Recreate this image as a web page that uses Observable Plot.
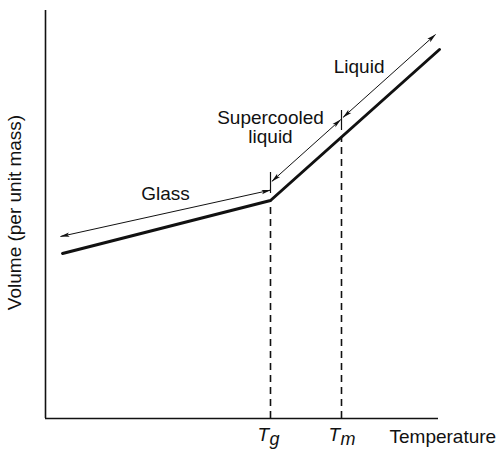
<!DOCTYPE html>
<html>
<head>
<meta charset="utf-8">
<script src="https://cdn.jsdelivr.net/npm/d3@7"></script>
<script src="https://cdn.jsdelivr.net/npm/@observablehq/plot@0.6"></script>
<style>
  html, body { margin: 0; padding: 0; background: #fff; }
  #chart svg { display: block; font-family: "Liberation Sans", Arial, Helvetica, sans-serif; }
</style>
</head>
<body>
<div id="chart"></div>
<script>
// Main volume–temperature curve (arbitrary units)
const temperature = [4.25, 56.25, 98.5];
const volume = [41.25, 54.5, 92.25];

// Transition temperatures
const transitionSubs = ["g", "m"];
const transitionTemps = [56.25, 74];
const transitionVolumes = [54.5, 70.4];
const tickLow = [56.25, 72];
const tickHigh = [61.5, 77];

// Regions (double-headed arrows and labels)
const regionNames = ["Glass", "Supercooled\nliquid", "Liquid"];
const regionStartT = [3.75, 56.6, 74.4];
const regionEndT = [56.25, 73.8, 97.5];
const regionStartV = [45.5, 59.3, 75.3];
const regionEndV = [57.1, 74.7, 96];
const regionLabelT = [30, 56.25, 78.4];
const regionLabelV = [54.75, 69, 86.5];

const curve = temperature.map((t, i) => ({t, v: volume[i]}));
const transitions = transitionTemps.map((t, i) => ({t, v: transitionVolumes[i], sub: transitionSubs[i], lo: tickLow[i], hi: tickHigh[i]}));
const regions = regionNames.map((name, i) => ({
  name, t1: regionStartT[i], t2: regionEndT[i], v1: regionStartV[i], v2: regionEndV[i],
  lt: regionLabelT[i], lv: regionLabelV[i]
}));

function head(color) {
  const m = d3.create("svg:marker")
    .attr("viewBox", "-10 -3 11 6")
    .attr("markerWidth", 11)
    .attr("markerHeight", 6)
    .attr("markerUnits", "userSpaceOnUse")
    .attr("orient", "auto-start-reverse")
    .attr("overflow", "visible");
  m.append("path").attr("fill", color).attr("stroke", "none").attr("d", "M0.5,0L-9,-2.2L-7,0L-9,2.2Z");
  return m.node();
}

const FS = 19;
const chart = Plot.plot({
  width: 499,
  height: 449,
  marginLeft: 45,
  marginRight: 54,
  marginTop: 10,
  marginBottom: 31,
  x: {domain: [0, 100], axis: null},
  y: {domain: [0, 102], axis: null},
  marks: [
    // axes
    Plot.ruleX([0], {y1: 0, y2: 102, stroke: "#111", strokeWidth: 1.6}),
    Plot.ruleY([0], {x1: 0, x2: 98.25, stroke: "#111", strokeWidth: 1.4}),
    // dashed drops
    Plot.ruleX(transitions, {x: "t", y1: 0, y2: "v", stroke: "#111", strokeWidth: 1.6, strokeDasharray: "7,5"}),
    // main curve
    Plot.line(curve, {x: "t", y: "v", stroke: "#111", strokeWidth: 3, strokeLinejoin: "miter"}),
    // region arrows
    Plot.link(regions, {x1: "t1", y1: "v1", x2: "t2", y2: "v2", stroke: "#111", strokeWidth: 1, markerStart: head, markerEnd: head}),
    // ticks on arrow line
    Plot.ruleX(transitions, {x: "t", y1: "lo", y2: "hi", stroke: "#111", strokeWidth: 1.2}),
    // region labels
    Plot.text(regions, {x: "lt", y: "lv", text: "name", fontSize: FS, lineAnchor: "bottom", lineHeight: 1, fill: "#111"}),
    // transition labels
    Plot.text(transitions, {x: "t", y: -5.5, text: () => "T", dx: -13, textAnchor: "start", lineAnchor: "bottom", fontSize: FS, fontStyle: "italic", fill: "#111"}),
    Plot.text(transitions, {x: "t", y: -5.5, text: "sub", dx: -1, dy: 4, textAnchor: "start", lineAnchor: "bottom", fontSize: 18, fontStyle: "italic", fill: "#111"}),
    // axis labels
    Plot.text(["Temperature"], {x: 86, y: -6, text: d => d, textAnchor: "start", lineAnchor: "bottom", fontSize: FS, fill: "#111"}),
    Plot.text(["Volume (per unit mass)"], {x: -6.1, y: 51.5, text: d => d, rotate: -90, lineAnchor: "bottom", fontSize: FS, fill: "#111"})
  ]
});
document.getElementById("chart").appendChild(chart);
</script>
</body>
</html>
